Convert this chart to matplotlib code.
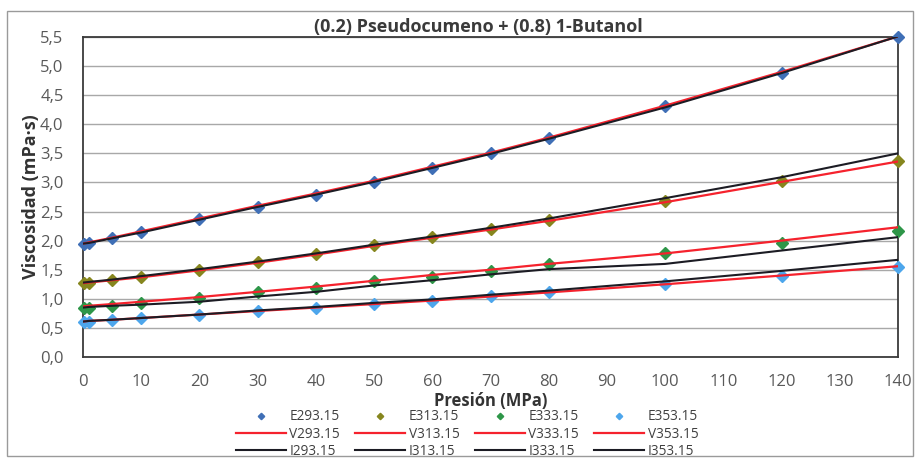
import matplotlib
matplotlib.use("Agg")
import matplotlib.pyplot as plt
from matplotlib.patches import Rectangle
from matplotlib.ticker import FuncFormatter, MultipleLocator

plt.rcParams['font.family'] = ['Open Sans', 'DejaVu Sans']

# pressure (MPa) and viscosity (mPa·s) for each temperature
presion = [0.1, 1, 5, 10, 20, 30, 40, 50, 60, 70, 80, 100, 120, 140]
temps = ['293.15', '313.15', '333.15', '353.15']

exp_vals = [
    [1.95, 1.96, 2.04, 2.15, 2.37, 2.58, 2.78, 3.00, 3.25, 3.50, 3.77, 4.31, 4.88, 5.50],
    [1.27, 1.28, 1.32, 1.38, 1.50, 1.63, 1.77, 1.93, 2.06, 2.20, 2.36, 2.68, 3.02, 3.37],
    [0.85, 0.85, 0.88, 0.93, 1.01, 1.11, 1.19, 1.30, 1.38, 1.47, 1.60, 1.78, 1.96, 2.17],
    [0.60, 0.61, 0.64, 0.67, 0.73, 0.79, 0.85, 0.91, 0.96, 1.04, 1.11, 1.25, 1.39, 1.55],
]
v_vals = [
    [1.95, 1.97, 2.05, 2.16, 2.38, 2.60, 2.81, 3.03, 3.27, 3.51, 3.77, 4.32, 4.90, 5.51],
    [1.27, 1.28, 1.32, 1.37, 1.49, 1.62, 1.76, 1.91, 2.05, 2.19, 2.34, 2.66, 3.01, 3.36],
    [0.87, 0.88, 0.91, 0.95, 1.03, 1.12, 1.21, 1.31, 1.41, 1.50, 1.60, 1.78, 2.00, 2.23],
    [0.61, 0.62, 0.64, 0.67, 0.73, 0.79, 0.85, 0.91, 0.97, 1.04, 1.11, 1.25, 1.40, 1.56],
]
i_vals = [
    [1.95, 1.96, 2.04, 2.14, 2.36, 2.58, 2.79, 3.01, 3.25, 3.49, 3.75, 4.29, 4.88, 5.51],
    [1.28, 1.29, 1.33, 1.39, 1.51, 1.64, 1.78, 1.93, 2.07, 2.22, 2.38, 2.73, 3.09, 3.50],
    [0.85, 0.86, 0.88, 0.90, 0.95, 1.04, 1.12, 1.23, 1.32, 1.42, 1.51, 1.60, 1.83, 2.06],
    [0.61, 0.62, 0.64, 0.67, 0.73, 0.80, 0.86, 0.93, 0.99, 1.07, 1.14, 1.30, 1.48, 1.67],
]
marker_colors = ['#3F6FB6', '#86861E', '#2E9648', '#4DA6EC']

W, H, dpi = 916, 458, 100
fig = plt.figure(figsize=(W / dpi, H / dpi), dpi=dpi)
ax = fig.add_axes([83 / W, 1 - 357 / H, (898 - 83) / W, (357 - 37) / H])

handles = []
for k, t in enumerate(temps):
    e, = ax.plot(presion, exp_vals[k], linestyle='none', marker='D', markersize=6.5,
                 color=marker_colors[k], label='E' + t, zorder=3, clip_on=False)
    v, = ax.plot(presion, v_vals[k], color='#F5222D', lw=1.6, label='V' + t, zorder=4)
    i, = ax.plot(presion, i_vals[k], color='#1C1C24', lw=1.5, label='I' + t, zorder=5)
    handles += [e, v, i]

ax.set_xlim(0, 140)
ax.set_ylim(0, 5.5)
ax.xaxis.set_major_locator(MultipleLocator(10))
ax.yaxis.set_major_locator(MultipleLocator(0.5))
ax.yaxis.set_major_formatter(FuncFormatter(lambda y, _: f"{y:.1f}".replace('.', ',')))
ax.grid(axis='y', color='#A8A8A8', lw=1.0)
ax.set_axisbelow(True)
ax.tick_params(length=0, labelsize=12, labelcolor='#595959')
ax.tick_params(axis='x', pad=12)
ax.tick_params(axis='y', pad=14)
for s in ax.spines.values():
    s.set_color('#3A3A3A')
    s.set_linewidth(1.3)

ax.set_ylabel('Viscosidad (mPa·s)', fontsize=13, fontweight='bold', color='#333333', labelpad=0)
ax.set_xlabel('Presión (MPa)', fontsize=12, fontweight='bold', color='#333333', labelpad=1.5)

fig.text(478 / W, 1 - 36 / H, '(0.2) Pseudocumeno + (0.8) 1-Butanol', ha='center', va='bottom',
         fontsize=13, fontweight='bold', color='#3A3A3A')

leg = fig.legend(handles=handles, ncol=4, loc='center', bbox_to_anchor=(467 / W, 1 - 434 / H),
                 frameon=False, fontsize=9.8, handlelength=3.7, handletextpad=0.25,
                 columnspacing=1.1, labelspacing=0.15, markerscale=0.5, borderpad=0)
for txt in leg.get_texts():
    txt.set_color('#404040')

# outer chart frame
fig.patches.append(Rectangle((7 / W, 2 / H), 906 / W, 445 / H, transform=fig.transFigure,
                             fill=False, edgecolor='#9A9A9A', lw=1.0))

fig.savefig('out.png', dpi=dpi)
